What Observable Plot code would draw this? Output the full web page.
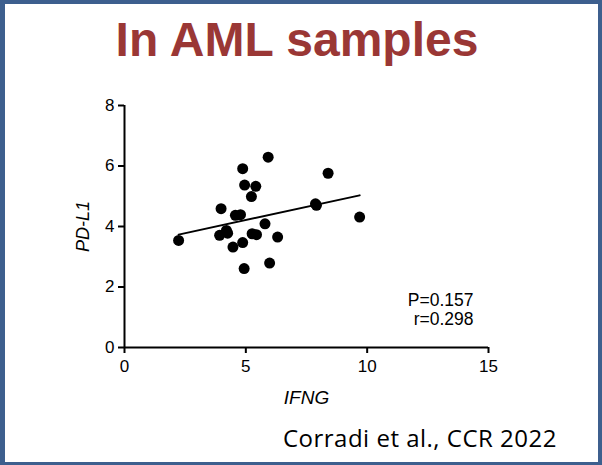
<!DOCTYPE html>
<html>
<head>
<meta charset="utf-8">
<script src="https://cdn.jsdelivr.net/npm/d3@7"></script>
<script src="https://cdn.jsdelivr.net/npm/@observablehq/plot@0.6"></script>
<style>
  html, body { margin: 0; padding: 0; background: #fff; }
  #wrap { position: relative; width: 602px; height: 465px; overflow: hidden; background: #fff; }
  #border { position: absolute; left: 0; top: 0; width: 602px; height: 465px; box-sizing: border-box;
            border: 4px solid #3d5f8e; border-left-width: 5px; border-bottom-width: 3px; pointer-events: none; z-index: 5; }
  #title { position: absolute; top: 16px; left: -4px; width: 602px; text-align: center;
           font: bold 48px/1 "Liberation Sans", Arial, sans-serif; color: #9a3735; white-space: nowrap; }
  #chart { position: absolute; left: 0; top: 75px; }
  #caption { position: absolute; top: 426px; right: 45px; white-space: nowrap; letter-spacing: 0.5px;
             font: 24px/1 "Open Sans", sans-serif; color: #000; }
</style>
</head>
<body>
<div id="wrap">
  <div id="title">In AML samples</div>
  <div id="chart"></div>
  <div id="caption">Corradi et al., CCR 2022</div>
  <div id="border"></div>
</div>
<script>
// Data
const ifng = [2.23, 3.98, 3.92, 4.20, 4.25, 4.47, 4.57, 4.78, 4.87, 4.95, 4.87, 4.93,
              5.23, 5.41, 5.26, 5.44, 5.92, 5.79, 5.98, 6.31, 7.87, 7.91, 8.39, 9.69];
const pdl1 = [3.54, 4.59, 3.71, 3.87, 3.78, 3.32, 4.37, 4.39, 5.91, 5.37, 3.47, 2.61,
              4.99, 5.33, 3.76, 3.73, 6.29, 4.09, 2.79, 3.65, 4.75, 4.70, 5.76, 4.31];
const xTicks = [0, 5, 10, 15];
const yTicks = [0, 2, 4, 6, 8];
const xLabel = "IFNG";
const yLabel = "PD-L1";
const statsP = "P=0.157";
const statsR = "r=0.298";

const data = ifng.map((x, i) => ({x, y: pdl1[i]}));
const xDomain = [xTicks[0], xTicks[xTicks.length - 1]];
const yDomain = [yTicks[0], yTicks[yTicks.length - 1]];
const font = "Liberation Sans, Arial, sans-serif";

const chart = Plot.plot({
  width: 602,
  height: 340,
  marginLeft: 124,
  marginRight: 114,
  marginTop: 30,
  marginBottom: 68,
  style: {fontFamily: font, background: "transparent", color: "#000"},
  x: {domain: xDomain},
  y: {domain: yDomain},
  marks: [
    Plot.axisX({ticks: xTicks, tickSize: 6, tickPadding: 6, fontSize: 17, label: null, strokeWidth: 2, stroke: "#000", fill: "#000"}),
    Plot.axisY({ticks: yTicks, tickSize: 6, tickPadding: 4, fontSize: 17, label: null, strokeWidth: 2, stroke: "#000", fill: "#000"}),
    Plot.ruleY([yDomain[0]], {x1: xDomain[0], x2: xDomain[1], stroke: "#000", strokeWidth: 2}),
    Plot.ruleX([xDomain[0]], {y1: yDomain[0], y2: yDomain[1], stroke: "#000", strokeWidth: 2}),
    Plot.linearRegressionY(data, {x: "x", y: "y", ci: 0, stroke: "#000", strokeWidth: 2}),
    Plot.dot(data, {x: "x", y: "y", r: 5.5, fill: "#000", stroke: null}),
    Plot.text([xLabel], {frameAnchor: "bottom", text: d => d, textAnchor: "middle", lineAnchor: "middle", dy: 50, fontSize: 19, fontStyle: "italic", fill: "#000"}),
    Plot.text([yLabel], {frameAnchor: "left", text: d => d, textAnchor: "middle", lineAnchor: "middle", dx: -41, rotate: -90, fontSize: 18, fontStyle: "italic", fill: "#000"}),
    Plot.text([statsP], {frameAnchor: "bottom-right", text: d => d, textAnchor: "end", lineAnchor: "middle", dx: -15, dy: -47.5, fontSize: 17.5, fill: "#000"}),
    Plot.text([statsR], {frameAnchor: "bottom-right", text: d => d, textAnchor: "end", lineAnchor: "middle", dx: -15, dy: -28, fontSize: 17.5, fill: "#000"})
  ]
});
document.getElementById("chart").appendChild(chart);
</script>
</body>
</html>
